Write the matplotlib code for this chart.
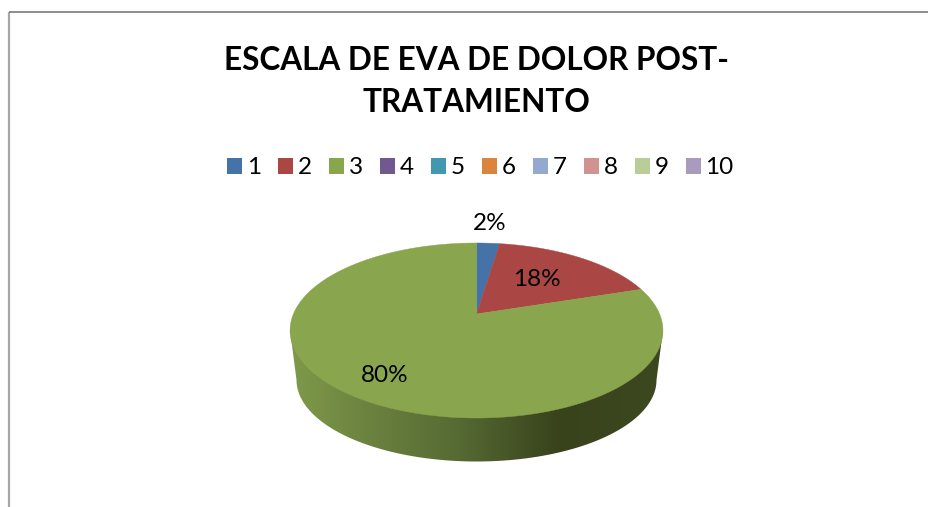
# Pie chart with a 3D look, EVA pain scale after treatment
import numpy as np
import matplotlib
matplotlib.use("Agg")
import matplotlib.pyplot as plt
from matplotlib.colors import LinearSegmentedColormap
from matplotlib.patches import Patch, Polygon

TITLE = "ESCALA DE EVA DE DOLOR POST-\nTRATAMIENTO"
categories = ["1", "2", "3", "4", "5", "6", "7", "8", "9", "10"]
values = [2.4, 17.6, 80, 0, 0, 0, 0, 0, 0, 0]
colors = ["#4572A7", "#AA4643", "#89A54E", "#71588F", "#4198AF",
          "#DB843D", "#93A9CF", "#D19392", "#B9CD96", "#A99BBD"]

label_pos = {0: (490, 223), 1: (537, 279.5), 2: (385, 376)}

plt.rcParams["font.family"] = ["Lato", "DejaVu Sans"]

# pie geometry in picture pixels
APEX_X, APEX_Y = 476.5, 314
SCALE_X, SCALE_Y, PERSP = 183.1, 84.4, 0.1886


def project(theta):
    # circle to screen, far edge looks smaller so the apex sits above the middle
    u = np.sin(theta)
    v = np.cos(theta)
    w = 1 + PERSP * v
    return APEX_X + SCALE_X * u / w, APEX_Y - SCALE_Y * v / w


def ellipse_arc(cx, cy, a, b, start, stop):
    t = np.linspace(start, stop, 200)
    return cx + a * np.cos(t), cy + b * np.sin(t)


fig = plt.figure(figsize=(9.29, 5.07), dpi=100)
ax = fig.add_axes([0, 0, 1, 1])
ax.set_xlim(0, 929)
ax.set_ylim(507, 0)
ax.axis("off")

# frame of the chart, only top and left show
ax.plot([9.5, 9.5], [507, 12], color="#a6a6a6", lw=1.6, solid_capstyle="butt")
ax.plot([9, 929], [12, 12], color="#8c8c8c", lw=1.4, solid_capstyle="butt")

# side wall with the dark shading
wall_x, wall_y = ellipse_arc(476.5, 380, 180, 81.5, np.pi, 0)
wall = np.column_stack([np.r_[290, wall_x, 663], np.r_[330, wall_y, 330]])
wall_cmap = LinearSegmentedColormap.from_list(
    "wall",
    [(0.0, "#7F9A4A"), (0.2, "#6C8340"), (0.45, "#566A33"),
     (0.72, "#38431C"), (1.0, "#3C4820")],
)
img = ax.imshow(np.linspace(0, 1, 256).reshape(1, -1), cmap=wall_cmap,
                extent=[290, 663, 465, 325], aspect="auto", zorder=1)
img.set_clip_path(Polygon(wall, closed=True, transform=ax.transData))
ax.set_xlim(0, 929)
ax.set_ylim(507, 0)

# top face
total = sum(values)
start = 0.0
for i, val in enumerate(values):
    if val == 0:
        continue
    stop = start + val / total * 2 * np.pi
    x, y = project(np.linspace(start, stop, 300))
    ax.fill(np.r_[APEX_X, x], np.r_[APEX_Y, y], color=colors[i], lw=0.3, zorder=2)
    ax.text(*label_pos[i], f"{val:.0f}%", ha="center", va="center",
            fontsize=17.5, color="black", zorder=3)
    start = stop

ax.text(476, 81.5, TITLE, ha="center", va="center", fontsize=22.7,
        fontweight="bold", color="black", linespacing=1.58)

handles = [Patch(facecolor=c, edgecolor="none") for c in colors]
ax.legend(handles, categories, ncol=10, loc="center", bbox_to_anchor=(480.5, 168),
          bbox_transform=ax.transData, frameon=False, fontsize=17.5,
          handlelength=0.617, handleheight=0.617, handletextpad=0.2,
          columnspacing=0.7, borderpad=0, borderaxespad=0)

fig.savefig("out.png", dpi=100, facecolor="white")
